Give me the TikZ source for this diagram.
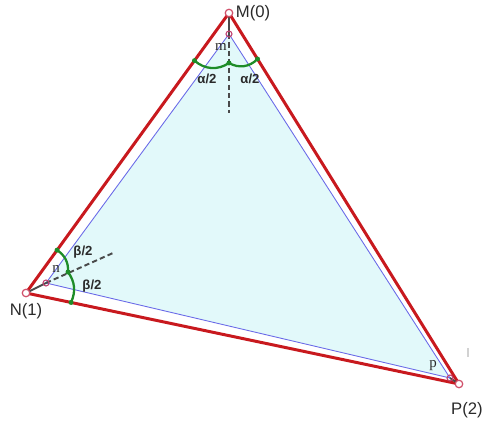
\documentclass[tikz,border=0pt]{standalone}
\usepackage{fontspec}
\setmainfont{Liberation Sans}
\newfontfamily\seriffam{Liberation Serif}
\usetikzlibrary{calc}
\definecolor{outerred}{HTML}{C8191E}
\definecolor{innerblue}{HTML}{6A6AE8}
\definecolor{innerfill}{HTML}{E2F9FA}
\definecolor{anglegreen}{HTML}{1E8C28}
\definecolor{markpink}{HTML}{D0506A}
\definecolor{bisgray}{HTML}{4A4A4A}
\definecolor{labeltext}{HTML}{2A2A2A}

\begin{document}
\begin{tikzpicture}[x=0.02cm, y=-0.02cm,
  vtx/.style   = {circle, draw=markpink, fill=white, line width=0.7pt, inner sep=0pt, minimum size=0.15cm},
  inn/.style   = {circle, draw=markpink!80!violet, line width=0.6pt, inner sep=0pt, minimum size=0.12cm},
  gdot/.style  = {circle, fill=anglegreen, inner sep=0pt, minimum size=0.1cm},
  bis/.style   = {draw=bisgray, line width=1.1pt},
  bisd/.style  = {bis, dash pattern=on 3pt off 1.8pt},
  garc/.style  = {draw=anglegreen, line width=1.3pt},
  vlbl/.style  = {font=\fontsize{9.5}{11}\selectfont, color=labeltext, inner sep=0pt},
  ilbl/.style  = {font=\fontsize{8.5}{10}\selectfont\seriffam, color=labeltext, inner sep=0pt},
  albl/.style  = {font=\fontsize{7.5}{9}\selectfont\bfseries, color=labeltext, inner sep=0pt},
]
\useasboundingbox (0,0) rectangle (485,422);
%%--- vertices: outer triangle MNP, inner triangle mnp ---
\coordinate (vM) at (229,13);
\coordinate (vN) at (26,293);
\coordinate (vP) at (459,384);
\coordinate (im) at (229,34);
\coordinate (in) at (46,283);
\coordinate (ip) at (450,378);
%%--- inner triangle (filled) ---
\fill[innerfill] (im) -- (in) -- (ip) -- cycle;
\draw[innerblue, line width=0.5pt] (im) -- (in) -- (ip) -- cycle;
%%--- outer triangle ---
\draw[outerred, line width=1.7pt, line join=miter] (vM) -- (vN) -- (vP) -- cycle;
%%--- bisectors ---
\coordinate (mEnd) at (229,113);
\coordinate (nEnd) at (113,253);
\draw[bis] (vM) -- (im); \draw[bisd] (im) -- (mEnd);
\draw[bis] (vN) -- (in); \draw[bisd] (in) -- (nEnd);
\draw[bis] (vP) -- (ip);
%%--- half angles at M ---
\coordinate (aL) at ($(vM)!0.17!(vN)$);
\coordinate (aC) at (229,63);
\coordinate (aR) at ($(vM)!0.124!(vP)$);
\draw[garc] (aL) to[bend right=38] (aC) to[bend right=38] (aR);
\node[gdot] at (aL) {}; \node[gdot] at (aC) {}; \node[gdot] at (aR) {};
%%--- half angles at N ---
\coordinate (bT) at ($(vN)!0.153!(vM)$);
\coordinate (bC) at (68,272);
\coordinate (bB) at ($(vN)!0.104!(vP)$);
\draw[garc] (bT) to[bend left=30] (bC) to[bend left=30] (bB);
\node[gdot] at (bT) {}; \node[gdot] at (bC) {}; \node[gdot] at (bB) {};
%%--- vertex marks ---
\node[vtx] (mM) at (vM) {}; \node[vtx] (mN) at (vN) {}; \node[vtx] (mP) at (vP) {};
\node[inn] (mm) at (im) {}; \node[inn] (mn) at (in) {}; \node[inn] (mp) at (ip) {};
%%--- labels ---
\node[vlbl] (lM) at (253,13)  {M(0)};
\node[vlbl] (lN) at (26,311)  {N(1)};
\node[vlbl] (lP) at (467,410) {P(2)};
\node[ilbl] (lm) at (221,47)  {m};
\node[ilbl] (ln) at (56,269)  {n};
\node[ilbl] (lp) at (433,366) {p};
\node[albl] at (207,79) {α/2};
\node[albl] at (250,79) {α/2};
\node[albl] at (83,252) {β/2};
\node[albl] at (92,286) {β/2};
%%--- faint tick ---
\draw[gray!35, line width=1.2pt] (468,348) -- (468,357);
\end{tikzpicture}
\end{document}
